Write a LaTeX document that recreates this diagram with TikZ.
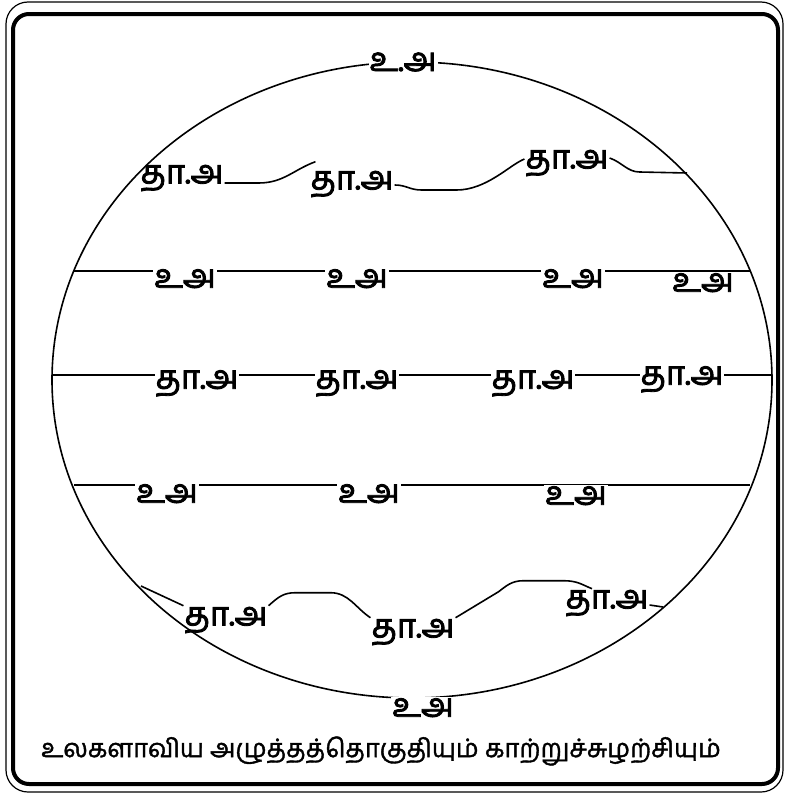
\documentclass[tikz,border=0pt]{standalone}
\usepackage{fontspec}
\newfontfamily\tamilfont[Script=Tamil, FakeBold=2.5]{Hind Madurai}
\newfontfamily\tamilcap[Script=Tamil, FakeBold=1.5]{Hind Madurai}
\usetikzlibrary{positioning}

\begin{document}
\begin{tikzpicture}[
    x=1pt, y=-1pt,
    lbl/.style={font=\tamilfont\fontsize{33}{36}\selectfont, inner sep=1pt},
    belt/.style={lbl, fill=white, anchor=north},
    wind/.style={line width=1.6pt, black},
    rim/.style={line width=1.6pt, black},
    caption/.style={font=\tamilcap\fontsize{25.5}{30}\selectfont, inner sep=0pt}
  ]
    \useasboundingbox (0,0) rectangle (785,795);
    % frame
    \draw[line width=1.2pt, rounded corners=22pt] (6,2) rectangle (783,792);
    \draw[line width=4pt, rounded corners=16pt] (13,14) rectangle (778,784);
    % globe
    \coordinate (c) at (412,380);
    \draw[rim] (c) ellipse [x radius=360pt, y radius=318pt];
    \node[lbl, fill=white] (np) at (403,62) {உ.அ};
    \node[belt] (sp) at (423,697) {உஅ};
    % upper wavy belt
    \node[lbl] (a1) at (182,178) {தா.அ};
    \node[lbl] (a2) at (352,184) {தா.அ};
    \node[lbl] (a3) at (567,163) {தா.அ};
    \coordinate (ae) at (687,173);
    \draw[wind] ([yshift=-5pt]a1.east) -- ++(34,0)
      .. controls +(25,0) and +(-22,8) .. ([shift={(6pt,8pt)}]a2.north west);
    \draw[wind] ([yshift=-1pt]a2.east) .. controls +(12,0) and +(-12,0) .. ++(27,5)
      -- ++(35,0) .. controls +(30,0) and +(-15,6) .. ([yshift=4pt]a3.west);
    \draw[wind] ([yshift=5pt]a3.east) .. controls +(12,4) and +(-12,0) .. ++(30,14) -- (ae);
    % row 1
    \coordinate (w1) at (74,271);
    \coordinate (e1) at (750,271);
    \draw[wind] (w1) -- (e1);
    \node[belt] (u11) at (185,268) {உஅ};
    \node[belt] (u12) at (357,268) {உஅ};
    \node[belt] (u13) at (573,268) {உஅ};
    \node[belt] (u14) at (703,272) {உஅ};
    % row 2
    \coordinate (w2) at (52,375);
    \coordinate (e2) at (772,375);
    \draw[wind] (w2) -- (e2);
    \node[belt] (t21) at (197,369) {தா.அ};
    \node[belt] (t22) at (357,369) {தா.அ};
    \node[belt] (t23) at (533,369) {தா.அ};
    \node[belt] (t24) at (682,365) {தா.அ};
    % row 3
    \coordinate (w3) at (74,485);
    \coordinate (e3) at (750,485);
    \draw[wind] (w3) -- (e3);
    \node[belt] (u31) at (167,483) {உஅ};
    \node[belt] (u32) at (369,483) {உஅ};
    \node[belt] (u33) at (576,485) {உஅ};
    % lower wavy belt
    \coordinate (b0) at (141,586);
    \node[lbl] (b1) at (226,620) {தா.அ};
    \node[lbl] (b2) at (413,632) {தா.அ};
    \node[lbl] (b3) at (607,603) {தா.அ};
    \coordinate (be) at (663,607);
    \draw[wind] (b0) -- (b1.north west);
    \draw[wind] (b1.north east) .. controls +(10,-9) and +(-12,0) .. ++(27,-13)
      -- ++(35,0) .. controls +(18,0) and +(-15,-10) .. (b2.north west);
    \draw[wind] (b2.north east) -- ++(43,-26) .. controls +(8,-6) and +(-12,0) .. ++(25,-11)
      -- ++(40,0) .. controls +(14,0) and +(-10,-4) .. ([xshift=-15pt]b3.north);
    \draw[wind] ([yshift=-2pt]b3.east) -- (be);
    % caption
    \node[caption] (cap) at (381,751) {உலகளாவிய அழுத்தத்தொகுதியும் காற்றுச்சுழற்சியும்};
\end{tikzpicture}
\end{document}
